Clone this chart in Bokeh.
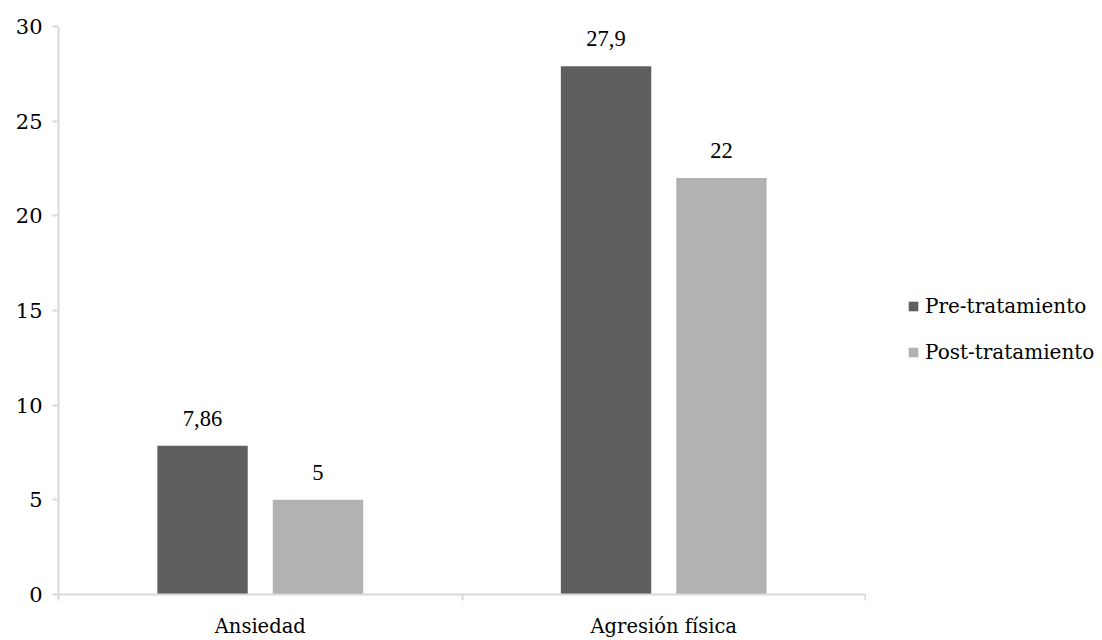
from bokeh.plotting import figure
from bokeh.layouts import row
from bokeh.models import Range1d, FixedTicker, ColumnDataSource, LabelSet, Legend, LegendItem
from bokeh.embed import file_html
from bokeh.resources import INLINE

categories = ["Ansiedad", "Agresión física"]
series_names = ["Pre-tratamiento", "Post-tratamiento"]
pre_values = [7.86, 27.9]
post_values = [5, 22]
y_ticks = [0, 5, 10, 15, 20, 25, 30]
colors = ["#5f5f5f", "#b2b2b2"]

FONT = "DejaVu Serif"
FS_NUM = "21px"
FS_LAB = "22.5px"
FS_CAT = "19.5px"
FS_LEG = "20px"

def fmt(v):
    if float(v).is_integer():
        return str(int(v))
    return str(v).replace(".", ",")

p = figure(width=866, height=640, output_backend="svg", toolbar_location=None,
           x_range=Range1d(0, len(categories)), y_range=Range1d(0, 30),
           min_border_left=58, min_border_right=1, min_border_top=26, min_border_bottom=41)
p.outline_line_color = None
p.xgrid.visible = False
p.ygrid.visible = False
p.background_fill_color = "white"
p.border_fill_color = "white"

idx = list(range(len(categories)))
centers = [i + 0.5 for i in idx]
offset = 0.143
bw = 0.224

for k, (vals, off) in enumerate([(pre_values, -offset), (post_values, offset)]):
    src = ColumnDataSource(dict(x=[c + off for c in centers], top=vals,
                                lab=[fmt(v) for v in vals]))
    p.vbar(x="x", top="top", width=bw, bottom=0, source=src,
           fill_color=colors[k], line_color=None)
    labels = LabelSet(x="x", y="top", text="lab", source=src, text_align="center",
                      text_baseline="alphabetic", y_offset=20, text_font=FONT,
                      text_font_size=FS_LAB, text_color="#000000")
    p.add_layout(labels)

# axes
xa = p.xaxis[0]
xa.ticker = FixedTicker(ticks=centers, minor_ticks=[float(i) for i in range(len(categories) + 1)])
xa.major_label_overrides = {c: cat for c, cat in zip(centers, categories)}
xa.major_tick_line_color = None
xa.minor_tick_line_color = "#d9d9d9"
xa.minor_tick_line_width = 2
xa.minor_tick_out = 6
xa.minor_tick_in = 0
xa.axis_line_color = "#d9d9d9"
xa.axis_line_width = 2
xa.major_label_text_font = FONT
xa.major_label_text_font_size = FS_CAT
xa.major_label_text_color = "#000000"
xa.major_label_standoff = 14

ya = p.yaxis[0]
ya.ticker = FixedTicker(ticks=y_ticks, minor_ticks=[])
ya.axis_line_color = "#d9d9d9"
ya.axis_line_width = 2
ya.major_tick_line_color = "#d9d9d9"
ya.major_tick_line_width = 2
ya.major_tick_out = 6
ya.major_tick_in = 0
ya.minor_tick_line_color = None
ya.major_label_text_font = FONT
ya.major_label_text_font_size = FS_NUM
ya.major_label_text_color = "#000000"
ya.major_label_standoff = 10

# legend panel
lg = figure(width=236, height=640, output_backend="svg", toolbar_location=None,
            x_range=Range1d(0, 1), y_range=Range1d(0, 1),
            min_border_left=0, min_border_right=0, min_border_top=0, min_border_bottom=0)
lg.axis.visible = False
lg.xgrid.visible = False
lg.ygrid.visible = False
lg.outline_line_color = None
lr = []
for k in range(len(series_names)):
    # legend swatches only; the data lie outside the visible range
    lr.append(lg.vbar(x=[-10], top=[-10], width=0.1, fill_color=colors[k], line_color=None))
legend = Legend(items=[LegendItem(label=n, renderers=[r]) for n, r in zip(series_names, lr)],
                location=(41, 230), orientation="vertical",
                label_text_font=FONT, label_text_font_size=FS_LEG, label_text_color="#000000",
                glyph_width=12, glyph_height=12, spacing=22, padding=0, margin=0,
                label_standoff=6, border_line_color=None, background_fill_alpha=0)
lg.add_layout(legend, "center")

layout = row(p, lg)
open("out.html", "w").write(file_html(layout, INLINE))
